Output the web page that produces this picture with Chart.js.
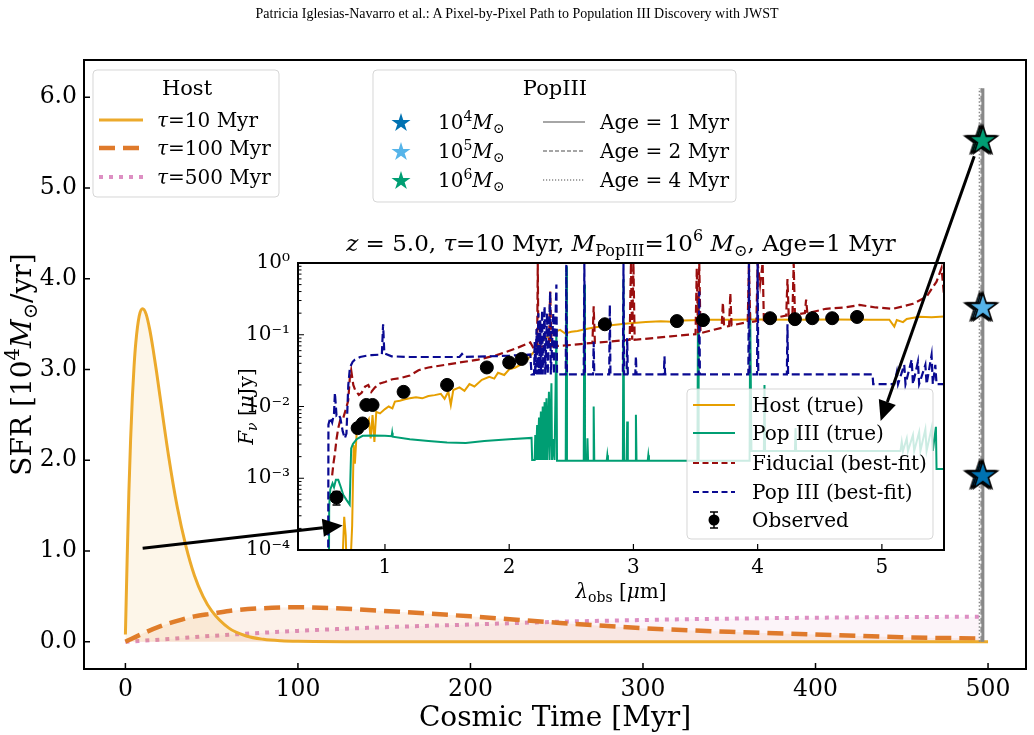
<!DOCTYPE html>
<html>
<head>
<meta charset="utf-8">
<script src="https://cdn.jsdelivr.net/npm/chart.js@4.4.0/dist/chart.umd.min.js"></script>
<style>
html, body { margin: 0; padding: 0; background: #fff; }
#wrap { position: relative; width: 1034px; height: 735px; overflow: hidden; }
#wrap canvas { position: absolute; left: 0; top: 0; }
#hdr { position: absolute; top: 6px; left: 0; width: 1034px; text-align: center;
       font-family: "Liberation Serif", "Times New Roman", serif; font-size: 14px; color: #000; }
</style>
</head>
<body>
<div id="wrap">
  <canvas id="mainChart" width="1034" height="735"></canvas>
  <canvas id="insetChart" width="1034" height="735"></canvas>
  <div id="hdr">Patricia Iglesias-Navarro et al.: A Pixel-by-Pixel Path to Population III Discovery with JWST</div>
</div>
<script>
// ---- star formation histories of the host (time in Myr, SFR in 1e4 Msun/yr) ----
var timeTau10 = [0, 1, 2, 3, 4, 5, 6, 8, 10, 12, 14, 16, 18, 20, 25, 30, 35, 40, 45, 50, 60, 70, 80, 90, 100, 150, 200, 300, 400, 500];
var sfrTau10 = [0.08, 0.90, 1.64, 2.22, 2.68, 3.03, 3.29, 3.59, 3.67, 3.61, 3.45, 3.23, 2.98, 2.71, 2.05, 1.49, 1.06, 0.73, 0.50, 0.34, 0.15, 0.064, 0.027, 0.011, 0.005, 0, 0, 0, 0, 0];
var timeTau100 = [0, 10, 20, 30, 40, 50, 60, 80, 100, 120, 150, 200, 250, 300, 350, 400, 450, 497];
var sfrTau100 = [0.0, 0.09, 0.17, 0.23, 0.28, 0.31, 0.34, 0.37, 0.38, 0.37, 0.34, 0.28, 0.21, 0.15, 0.11, 0.08, 0.05, 0.035];
var timeTau500 = [0, 25, 50, 100, 150, 200, 250, 300, 350, 400, 450, 495];
var sfrTau500 = [0, 0.03, 0.065, 0.12, 0.16, 0.19, 0.22, 0.24, 0.255, 0.265, 0.272, 0.276];

// ---- PopIII bursts ----
var popMasses = ['4', '5', '6'];              // log10 of the PopIII mass
var popLevels = [1.84, 3.69, 5.53];           // where the stars sit on the SFR axis
var popTimes = [495, 496, 497];               // burst times for Age = 4, 2, 1 Myr
var popAges = ['4', '2', '1'];
var popLineTop = 6.1;

// ---- tick labels ----
var mainXTicks = [0, 100, 200, 300, 400, 500];
var mainYTicks = [0, 1, 2, 3, 4, 5, 6];
var insetXTicks = [1, 2, 3, 4, 5];
var insetYTicks = [1e-4, 1e-3, 1e-2, 1e-1, 1];
var insetYLabels = ['10\u207B\u2074', '10\u207B\u00B3', '10\u207B\u00B2', '10\u207B\u00B9', '10\u2070'];

// ---- inset SEDs: [lambda_obs (um), F_nu (uJy)] ----
var hostSed = [[0.655,5e-5],[0.672,2.9e-4],[0.684,1.6e-4],[0.692,5e-5],[0.72,5e-5],[0.736,2.2e-4],[0.748,2.9e-3],[0.758,1.6e-3],
  [0.772,4.2e-3],[0.79,4.8e-3],[0.81,4.4e-3],[0.83,5.5e-3],[0.85,5.6e-3],[0.87,6.6e-3],[0.885,3.6e-3],[0.9,7.6e-3],[0.915,3.2e-3],
  [0.93,8.4e-3],[0.96,8.0e-3],[1.0,9.2e-3],[1.03,1.0e-2],[1.06,9.4e-3],[1.08,1.17e-2],[1.12,1.2e-2],[1.16,1.26e-2],[1.2,1.3e-2],
  [1.25,1.34e-2],[1.3,1.3e-2],[1.35,1.4e-2],[1.4,1.44e-2],[1.45,1.5e-2],[1.48,1.28e-2],[1.51,1.62e-2],[1.53,1.05e-2],[1.55,1.7e-2],
  [1.6,1.85e-2],[1.64,1.65e-2],[1.68,2.05e-2],[1.72,1.9e-2],[1.78,2.35e-2],[1.84,2.6e-2],[1.88,2.45e-2],[1.91,2.95e-2],[1.96,2.75e-2],
  [2.0,3.3e-2],[2.05,3.5e-2],[2.1,3.9e-2],[2.15,4.6e-2],[2.2,5.8e-2],[2.25,7.6e-2],[2.3,9.2e-2],[2.35,1.07e-1],[2.41,1.17e-1],
  [2.45,1.04e-1],[2.5,1.1e-1],[2.55,1.13e-1],[2.62,1.2e-1],[2.68,1.26e-1],[2.8,1.35e-1],[2.95,1.44e-1],[3.1,1.5e-1],[3.22,1.54e-1],
  [3.35,1.5e-1],[3.4,1.58e-1],[3.62,1.62e-1],[3.8,1.62e-1],[4.0,1.63e-1],[4.3,1.62e-1],[4.6,1.63e-1],[4.9,1.62e-1],[5.06,1.62e-1],
  [5.1,1.3e-1],[5.12,1.6e-1],[5.17,1.5e-1],[5.2,1.66e-1],[5.3,1.78e-1],[5.4,1.76e-1],[5.5,1.8e-1]];

var pop3Sed = [[0.549,5e-5],[0.551,4e-4],[0.56,7e-4],[0.578,8.5e-4],[0.59,7.5e-4],[0.605,9.5e-4],[0.624,9.5e-4],[0.645,7.5e-4],
  [0.664,5.9e-4],[0.69,5e-4],[0.716,4.3e-4],[0.728,2.6e-3],[0.742,3.0e-3],[0.772,3.5e-3],[0.82,3.9e-3],[0.9,3.95e-3],[1.0,3.9e-3],
  [1.054,3.85e-3],[1.058,4.3e-3],[1.062,3.8e-3],[1.2,3.5e-3],[1.35,3.3e-3],[1.5,3.15e-3],[1.65,3.1e-3],[1.8,3.3e-3],[2.0,3.5e-3],
  [2.18,3.65e-3],[2.185,1.8e-3],[2.205,1.8e-3],[2.21,4e-3],[2.215,1.8e-3],[2.225,5.5e-3],[2.23,1.8e-3],[2.24,7e-3],[2.245,1.8e-3],
  [2.255,8.5e-3],[2.26,1.8e-3],[2.27,1e-2],[2.275,1.8e-3],[2.285,1.15e-2],[2.29,1.8e-3],[2.3,1.3e-2],[2.305,1.8e-3],[2.32,1.6e-2],
  [2.325,1.8e-3],[2.34,2.1e-2],[2.345,1.8e-3],[2.36,3.5e-3],[2.365,1.8e-3],[2.38,0.12],[2.385,1.75e-3],[2.455,1.75e-3],[2.46,0.9],
  [2.465,1.75e-3],[2.6,1.75e-3],[2.605,0.5],[2.61,1.75e-3],[2.625,1.75e-3],[2.63,3.6e-3],[2.635,1.75e-3],[2.675,1.75e-3],[2.68,1e-2],
  [2.685,1.75e-3],[2.785,1.75e-3],[2.79,2.1e-3],[2.795,1.75e-3],[2.915,1.75e-3],[2.92,0.6],[2.925,1.75e-3],[2.945,1.75e-3],[2.95,6.2e-3],
  [2.955,1.75e-3],[3.015,1.75e-3],[3.02,7.7e-3],[3.025,1.75e-3],[3.115,1.75e-3],[3.12,2.1e-3],[3.125,1.75e-3],[3.515,1.75e-3],
  [3.52,0.3],[3.525,1.75e-3],[3.935,1.75e-3],[3.94,0.2],[3.95,2.4e-3],[4.05,2.4e-3],[4.055,2e-2],[4.06,2.4e-3],[4.3,2.4e-3],
  [4.305,5e-3],[4.31,2.4e-3],[5.15,2.4e-3],[5.16,3.2e-3],[5.17,2.4e-3],[5.2,3.6e-3],[5.21,2.4e-3],[5.25,4e-3],[5.26,2.4e-3],
  [5.3,4.4e-3],[5.31,2.4e-3],[5.35,4.8e-3],[5.36,2.4e-3],[5.4,5e-3],[5.41,2.4e-3],[5.435,5.2e-3],[5.44,1.35e-3],[5.5,1.35e-3]];

var fidSed = [[0.575,1.1e-3],[0.585,1.6e-3],[0.597,2.2e-3],[0.61,3.5e-3],[0.624,5e-3],[0.64,6.5e-3],[0.664,6.9e-3],[0.684,9e-3],
  [0.704,1.2e-2],[0.718,2.6e-2],[0.728,3.2e-2],[0.745,2.0e-2],[0.76,1.7e-2],[0.79,1.45e-2],[0.812,1.55e-2],[0.84,1.9e-2],
  [0.866,2.0e-2],[0.89,1.6e-2],[0.92,1.85e-2],[0.96,2.1e-2],[1.0,2.2e-2],[1.06,2.4e-2],[1.13,2.5e-2],[1.2,2.7e-2],[1.27,3.2e-2],
  [1.35,3.5e-2],[1.48,3.8e-2],[1.6,4.1e-2],[1.75,4.5e-2],[1.9,5.2e-2],[2.05,6.4e-2],[2.17,7.8e-2],[2.2,6.3e-2],[2.225,6.8e-2],
  [2.23,1.0],[2.235,6.8e-2],[2.32,6.9e-2],[2.33,0.4],[2.34,6.9e-2],[2.5,7.2e-2],[2.67,7.7e-2],[2.68,0.25],[2.69,7.7e-2],
  [2.97,8.5e-2],[2.98,1.0],[2.99,8.5e-2],[3.0,1.0],[3.01,8.5e-2],[3.3,9.5e-2],[3.5,1.02e-1],[3.51,0.85],[3.52,1.05e-1],[3.53,1.0],
  [3.54,1.05e-1],[3.71,1.25e-1],[3.72,0.28],[3.73,1.3e-1],[3.77,1.32e-1],[3.78,0.38],[3.79,1.35e-1],[3.92,1.5e-1],[3.93,1.0],
  [3.94,1.5e-1],[3.99,1.55e-1],[4.0,1.0],[4.02,0.5],[4.04,1.0],[4.05,1.6e-1],[4.23,1.85e-1],[4.24,0.6],[4.25,1.85e-1],[4.28,1.9e-1],
  [4.29,1.0],[4.3,1.9e-1],[4.38,2.0e-1],[4.39,0.31],[4.4,2.0e-1],[4.55,2.3e-1],[4.7,2.4e-1],[4.82,2.6e-1],[4.95,2.4e-1],
  [5.09,2.3e-1],[5.25,2.7e-1],[5.36,3.4e-1],[5.44,5.5e-1],[5.48,8.5e-1],[5.5,3.6e-1]];

var pop3FitSed = [[0.543,5e-5],[0.545,5.6e-3],[0.56,7e-3],[0.575,6e-3],[0.59,8e-3],[0.597,1.55e-2],[0.61,7.5e-3],[0.624,7.8e-3],
  [0.64,7e-3],[0.66,4.5e-3],[0.677,3.6e-3],[0.69,4.2e-3],[0.705,2e-2],[0.718,3.5e-2],[0.74,4.2e-2],[0.758,4.5e-2],[0.8,4.9e-2],
  [0.85,5.1e-2],[0.892,5.2e-2],[0.975,5.3e-2],[0.985,1.4e-1],[0.995,5.5e-2],[1.054,5.0e-2],[1.2,4.9e-2],[1.6,4.9e-2],[1.62,5.4e-2],
  [1.64,4.9e-2],[2.0,5.1e-2],[2.17,5.3e-2],[2.18,2.8e-2],[2.2,2.8e-2],[2.205,0.08],[2.21,2.8e-2],[2.22,0.12],[2.225,2.8e-2],
  [2.235,0.2],[2.24,2.8e-2],[2.25,0.16],[2.255,2.8e-2],[2.265,0.22],[2.27,2.8e-2],[2.285,0.25],[2.29,2.8e-2],[2.305,0.2],
  [2.31,2.8e-2],[2.33,0.4],[2.335,2.8e-2],[2.355,0.2],[2.36,2.8e-2],[2.38,0.5],[2.385,2.8e-2],[2.455,2.8e-2],[2.46,0.95],
  [2.465,2.8e-2],[2.6,2.8e-2],[2.605,1.0],[2.61,2.8e-2],[2.675,2.8e-2],[2.68,0.08],[2.685,2.8e-2],[2.805,2.8e-2],[2.81,0.26],
  [2.815,2.8e-2],[2.915,2.8e-2],[2.92,1.0],[2.925,2.8e-2],[2.945,2.8e-2],[2.95,0.09],[2.955,2.8e-2],[3.015,2.8e-2],[3.02,0.05],
  [3.025,2.8e-2],[3.245,2.8e-2],[3.25,0.05],[3.255,2.8e-2],[3.525,2.8e-2],[3.53,0.4],[3.535,2.8e-2],[3.925,2.8e-2],[3.93,1.0],
  [3.935,2.8e-2],[3.995,2.8e-2],[4.0,1.0],[4.005,2.8e-2],[4.235,2.8e-2],[4.24,0.14],[4.245,2.8e-2],[4.925,2.8e-2],[4.93,2.05e-2],
  [5.1,2.05e-2],[5.12,3e-2],[5.13,2.05e-2],[5.18,3.8e-2],[5.19,2.05e-2],[5.24,4.5e-2],[5.25,2.05e-2],[5.29,4.2e-2],[5.3,2.05e-2],
  [5.35,3.8e-2],[5.36,2.05e-2],[5.4,5.2e-2],[5.41,2.05e-2],[5.43,3.8e-2],[5.44,2.05e-2],[5.5,2.05e-2]];

var obsLam = [0.61, 0.78, 0.82, 0.85, 0.90, 1.15, 1.50, 1.82, 2.00, 2.10, 2.77, 3.35, 3.56, 4.10, 4.30, 4.44, 4.60, 4.80];
var obsFlux = [5.4e-4, 5.0e-3, 5.8e-3, 1.05e-2, 1.05e-2, 1.6e-2, 2.0e-2, 3.5e-2, 4.1e-2, 4.6e-2, 0.14, 0.155, 0.16, 0.17, 0.165, 0.17, 0.17, 0.177];
var obsErr = [1.15e-4, 2e-4, 2e-4, 3e-4, 3e-4, 4e-4, 5e-4, 8e-4, 9e-4, 1e-3, 3e-3, 3e-3, 3e-3, 3e-3, 3e-3, 3e-3, 3e-3, 4e-3];

// ---- arrows: start on the SFR panel, tip in the inset ----
var arrowFromMain = [[10, 1.03], [492, 5.35]];
var arrowToInset = [[0.66, 2.2e-4], [4.99, 6.3e-3]];

// ---- colours ----
var cTau10 = '#ECAA2C', cTau100 = '#DF7A2B', cTau500 = '#DD8FC3';
var cMass = ['#0072B2', '#56B4E9', '#009E73'];
var cHost = '#E69F00', cPop3 = '#009E73', cFid = '#9A0E0E', cFit = '#0A0A92';

var SERIF = '"DejaVu Serif", "DejaVu Sans", serif';
Chart.defaults.font.family = SERIF;
Chart.defaults.color = '#000';

function xy(xs, ys) { return xs.map(function (x, i) { return { x: x, y: ys[i] }; }); }
function pairs(arr) { return arr.map(function (p) { return { x: p[0], y: p[1] }; }); }

// text with italic / super / subscript pieces, y is the baseline
function drawRich(ctx, parts, x, y, size, align, rot) {
  ctx.save();
  ctx.translate(x, y);
  if (rot) ctx.rotate(rot);
  function fontFor(st) {
    var s = (st.indexOf('^') >= 0 || st.indexOf('_') >= 0) ? size * 0.7 : size;
    return (st.indexOf('i') >= 0 ? 'italic ' : '') + s + 'px ' + SERIF;
  }
  var w = 0;
  parts.forEach(function (p) { ctx.font = fontFor(p[1]); w += ctx.measureText(p[0]).width; });
  var cx = align === 'center' ? -w / 2 : (align === 'right' ? -w : 0);
  ctx.textAlign = 'left';
  ctx.textBaseline = 'alphabetic';
  ctx.fillStyle = '#000';
  parts.forEach(function (p) {
    ctx.font = fontFor(p[1]);
    var dy = p[1].indexOf('^') >= 0 ? -size * 0.42 : (p[1].indexOf('_') >= 0 ? size * 0.22 : 0);
    ctx.fillText(p[0], cx, dy);
    cx += ctx.measureText(p[0]).width;
  });
  ctx.restore();
}

function starPath(ctx, cx, cy, R) {
  var r = R * 0.382;
  ctx.beginPath();
  for (var k = 0; k < 10; k++) {
    var a = -Math.PI / 2 + k * Math.PI / 5;
    var rr = k % 2 ? r : R;
    ctx.lineTo(cx + rr * Math.cos(a), cy + rr * Math.sin(a));
  }
  ctx.closePath();
}

function makeStar(fill, R, lw) {
  var c = document.createElement('canvas');
  c.width = c.height = Math.ceil(2 * R + 2 * lw + 2);
  var g = c.getContext('2d');
  starPath(g, c.width / 2, c.height / 2 + 1, R);
  g.fillStyle = fill; g.fill();
  g.lineWidth = lw; g.strokeStyle = '#000'; g.lineJoin = 'miter'; g.stroke();
  return c;
}

function legendBox(ctx, x, y, w, h) {
  ctx.save();
  ctx.beginPath();
  ctx.roundRect(x, y, w, h, 4);
  ctx.fillStyle = 'rgba(255,255,255,0.8)';
  ctx.fill();
  ctx.strokeStyle = 'rgba(204,204,204,0.8)';
  ctx.lineWidth = 1;
  ctx.stroke();
  ctx.restore();
}

function sample(ctx, x1, x2, y, color, lw, dash) {
  ctx.save();
  ctx.strokeStyle = color; ctx.lineWidth = lw; ctx.setLineDash(dash || []);
  ctx.beginPath(); ctx.moveTo(x1, y); ctx.lineTo(x2, y); ctx.stroke();
  ctx.restore();
}

function arrow(ctx, x1, y1, x2, y2) {
  var a = Math.atan2(y2 - y1, x2 - x1), L = 20, W = 9;
  var bx = x2 - L * Math.cos(a), by = y2 - L * Math.sin(a);
  ctx.save();
  ctx.strokeStyle = '#000'; ctx.fillStyle = '#000'; ctx.lineWidth = 3;
  ctx.beginPath(); ctx.moveTo(x1, y1); ctx.lineTo(bx, by); ctx.stroke();
  ctx.beginPath();
  ctx.moveTo(x2, y2);
  ctx.lineTo(bx + W * Math.sin(a), by - W * Math.cos(a));
  ctx.lineTo(bx - W * Math.sin(a), by + W * Math.cos(a));
  ctx.closePath(); ctx.fill();
  ctx.restore();
}

function tickMarks(ctx, chart, xVals, yVals, len, lw) {
  var a = chart.chartArea;
  ctx.save();
  ctx.strokeStyle = '#000'; ctx.lineWidth = lw;
  ctx.beginPath();
  xVals.forEach(function (v) {
    var px = chart.scales.x.getPixelForValue(v);
    ctx.moveTo(px, a.bottom); ctx.lineTo(px, a.bottom - len);
  });
  yVals.forEach(function (v) {
    var py = chart.scales.y.getPixelForValue(v);
    ctx.moveTo(a.left, py); ctx.lineTo(a.left + len, py);
  });
  ctx.stroke();
  ctx.restore();
}

// ---------------- main SFR panel ----------------
var starSprites = cMass.map(function (c) { return makeStar(c, 15, 1.6); });

var mainDatasets = [];
for (var m = 2; m >= 0; m--) {
  mainDatasets.push({
    label: 'PopIII 1e' + popMasses[m],
    data: popTimes.map(function (t) { return { x: t, y: popLevels[m] }; }),
    showLine: false, pointStyle: starSprites[m], pointRadius: 5
  });
}
var vlineDash = [[], [6, 3], [1.5, 2]];
var vlineWidth = [3, 1.5, 1.5];
for (var k = 2; k >= 0; k--) {
  mainDatasets.push({
    label: 'Age ' + popAges[k],
    data: [{ x: popTimes[k], y: 0 }, { x: popTimes[k], y: popLineTop }],
    borderColor: '#888888', borderWidth: vlineWidth[2 - k], borderDash: vlineDash[2 - k],
    pointRadius: 0, fill: false
  });
}
mainDatasets.push(
  { label: 'tau10', data: xy(timeTau10, sfrTau10), borderColor: cTau10, borderWidth: 3,
    fill: 'origin', backgroundColor: 'rgba(236,170,44,0.10)', pointRadius: 0, cubicInterpolationMode: 'monotone' },
  { label: 'tau100', data: xy(timeTau100, sfrTau100), borderColor: cTau100, borderWidth: 4.5, borderDash: [16, 8],
    fill: 'origin', backgroundColor: 'rgba(223,122,43,0.10)', pointRadius: 0, cubicInterpolationMode: 'monotone' },
  { label: 'tau500', data: xy(timeTau500, sfrTau500), borderColor: cTau500, borderWidth: 4, borderDash: [4, 6],
    fill: 'origin', backgroundColor: 'rgba(221,143,195,0.10)', pointRadius: 0, cubicInterpolationMode: 'monotone' }
);

var mainDecor = {
  id: 'mainDecor',
  afterDraw: function (chart) {
    var ctx = chart.ctx, a = chart.chartArea;
    ctx.save();
    ctx.strokeStyle = '#000'; ctx.lineWidth = 2;
    ctx.strokeRect(a.left, a.top, a.right - a.left, a.bottom - a.top);
    ctx.restore();
    tickMarks(ctx, chart, mainXTicks, mainYTicks, 6, 1.5);

    drawRich(ctx, [['Cosmic Time [Myr]', '']], (a.left + a.right) / 2, 726, 28, 'center');
    drawRich(ctx, [['SFR [10', ''], ['4', '^'], ['M', 'i'], ['\u2299', '_'], ['/yr]', '']],
      31, (a.top + a.bottom) / 2, 28, 'center', -Math.PI / 2);

    // Host legend
    legendBox(ctx, 93, 70, 186, 127);
    drawRich(ctx, [['Host', '']], 187, 95, 21, 'center');
    var hy = [120, 148, 177];
    sample(ctx, 99, 143, hy[0], cTau10, 3, []);
    sample(ctx, 99, 143, hy[1], cTau100, 4.5, [16, 8]);
    sample(ctx, 99, 143, hy[2], cTau500, 4, [4, 6]);
    var taus = ['10', '100', '500'];
    taus.forEach(function (t, i) { drawRich(ctx, [['\u03C4', 'i'], ['=' + t + ' Myr', '']], 157, hy[i] + 7, 20, 'left'); });

    // PopIII legend
    legendBox(ctx, 373, 70, 363, 132);
    drawRich(ctx, [['PopIII', '']], 555, 95, 21, 'center');
    var py = [122, 151, 180];
    for (var i = 0; i < 3; i++) {
      ctx.save();
      starPath(ctx, 401, py[i] + 1, 10);
      ctx.fillStyle = cMass[i]; ctx.fill();
      ctx.restore();
      drawRich(ctx, [['10', ''], [popMasses[i], '^'], ['M', 'i'], ['\u2299', '_']], 438, py[i] + 7, 20, 'left');
    }
    sample(ctx, 543, 585, py[0], '#888888', 1.5, []);
    sample(ctx, 543, 585, py[1], '#888888', 1.5, [4, 2]);
    sample(ctx, 543, 585, py[2], '#888888', 1.5, [1.2, 1.8]);
    ['1', '2', '4'].forEach(function (g, i) { drawRich(ctx, [['Age = ' + g + ' Myr', '']], 600, py[i] + 7, 20, 'left'); });
  }
};

var mainChart = new Chart(document.getElementById('mainChart').getContext('2d'), {
  type: 'line',
  data: { datasets: mainDatasets },
  options: {
    responsive: false, animation: false, devicePixelRatio: 1,
    layout: { padding: { top: 60, right: 8, left: 0, bottom: 0 } },
    plugins: { legend: { display: false }, tooltip: { enabled: false } },
    scales: {
      x: {
        type: 'linear', min: -24, max: 522,
        afterBuildTicks: function (s) { s.ticks = mainXTicks.map(function (v) { return { value: v }; }); },
        afterFit: function (s) { s.height = 66; },
        grid: { display: false, drawTicks: false }, border: { display: false },
        ticks: { font: { size: 23.5 }, padding: 7, maxRotation: 0, autoSkip: false,
                 callback: function (v) { return String(v); } }
      },
      y: {
        type: 'linear', min: -0.30, max: 6.41,
        afterBuildTicks: function (s) { s.ticks = mainYTicks.map(function (v) { return { value: v }; }); },
        afterFit: function (s) { s.width = 84; },
        grid: { display: false, drawTicks: false }, border: { display: false },
        ticks: { font: { size: 23.5 }, padding: 7, autoSkip: false,
                 callback: function (v) { return Number(v).toFixed(1); } }
      }
    }
  },
  plugins: [mainDecor]
});

// ---------------- inset SED panel ----------------
var insetDecor = {
  id: 'insetDecor',
  beforeDraw: function (chart) {
    var ctx = chart.ctx, a = chart.chartArea;
    ctx.save(); ctx.fillStyle = '#fff';
    ctx.fillRect(a.left, a.top, a.right - a.left, a.bottom - a.top);
    ctx.restore();
  },
  afterDatasetsDraw: function (chart) {
    var ctx = chart.ctx, sx = chart.scales.x, sy = chart.scales.y;
    ctx.save();
    ctx.strokeStyle = '#000'; ctx.lineWidth = 1.5;
    ctx.beginPath();
    obsLam.forEach(function (l, i) {
      var px = sx.getPixelForValue(l);
      var y1 = sy.getPixelForValue(obsFlux[i] - obsErr[i]), y2 = sy.getPixelForValue(obsFlux[i] + obsErr[i]);
      ctx.moveTo(px, y1); ctx.lineTo(px, y2);
      ctx.moveTo(px - 4, y1); ctx.lineTo(px + 4, y1);
      ctx.moveTo(px - 4, y2); ctx.lineTo(px + 4, y2);
    });
    ctx.stroke();
    ctx.restore();
  },
  afterDraw: function (chart) {
    var ctx = chart.ctx, a = chart.chartArea;
    ctx.save();
    ctx.strokeStyle = '#000'; ctx.lineWidth = 2;
    ctx.strokeRect(a.left, a.top, a.right - a.left, a.bottom - a.top);
    ctx.restore();
    tickMarks(ctx, chart, insetXTicks, insetYTicks, 6, 1.2);
    var minor = [];
    for (var d = -4; d < 0; d++) for (var mm = 2; mm <= 9; mm++) minor.push(mm * Math.pow(10, d));
    tickMarks(ctx, chart, [], minor, 3.5, 1);

    drawRich(ctx, [['z', 'i'], [' = 5.0, ', ''], ['\u03C4', 'i'], ['=10 Myr, ', ''], ['M', 'i'], ['PopIII', '_'],
      ['=10', ''], ['6', '^'], [' ', ''], ['M', 'i'], ['\u2299', '_'], [', Age=1 Myr', '']],
      (a.left + a.right) / 2, 251, 23, 'center');
    drawRich(ctx, [['\u03BB', 'i'], ['obs', '_'], [' [', ''], ['\u03BC', 'i'], ['m]', '']], (a.left + a.right) / 2, 598, 20, 'center');
    drawRich(ctx, [['F', 'i'], ['\u03BD', '_i'], [' [', ''], ['\u03BC', 'i'], ['Jy]', '']], 253, (a.top + a.bottom) / 2, 20, 'center', -Math.PI / 2);

    // legend
    legendBox(ctx, 687, 389, 246, 150);
    var ly = [405, 433, 463, 492, 520];
    sample(ctx, 693, 735, ly[0], cHost, 2, []);
    sample(ctx, 693, 735, ly[1], cPop3, 2, []);
    sample(ctx, 693, 735, ly[2], cFid, 2.2, [6, 3.5]);
    sample(ctx, 693, 735, ly[3], cFit, 2.2, [6, 3.5]);
    ctx.save();
    ctx.strokeStyle = '#000'; ctx.lineWidth = 1.5;
    ctx.beginPath();
    ctx.moveTo(714, ly[4] - 8); ctx.lineTo(714, ly[4] + 8);
    ctx.moveTo(710, ly[4] - 8); ctx.lineTo(718, ly[4] - 8);
    ctx.moveTo(710, ly[4] + 8); ctx.lineTo(718, ly[4] + 8);
    ctx.stroke();
    ctx.beginPath(); ctx.arc(714, ly[4], 5.5, 0, 2 * Math.PI); ctx.fillStyle = '#000'; ctx.fill();
    ctx.restore();
    ['Host (true)', 'Pop III (true)', 'Fiducial (best-fit)', 'Pop III (best-fit)', 'Observed'].forEach(function (t, i) {
      drawRich(ctx, [[t, '']], 752, ly[i] + 7, 20, 'left');
    });

    // arrows from the SFR panel into the inset
    var mx = mainChart.scales.x, my = mainChart.scales.y;
    for (var i = 0; i < arrowFromMain.length; i++) {
      arrow(ctx, mx.getPixelForValue(arrowFromMain[i][0]), my.getPixelForValue(arrowFromMain[i][1]),
        chart.scales.x.getPixelForValue(arrowToInset[i][0]), chart.scales.y.getPixelForValue(arrowToInset[i][1]));
    }
  }
};

var insetChart = new Chart(document.getElementById('insetChart').getContext('2d'), {
  type: 'line',
  data: {
    datasets: [
      { label: 'Observed', data: xy(obsLam, obsFlux), showLine: false, pointRadius: 6.5,
        backgroundColor: '#000', borderColor: '#000' },
      { label: 'Pop III (best-fit)', data: pairs(pop3FitSed), borderColor: cFit, borderWidth: 2.2,
        borderDash: [8, 4], pointRadius: 0, fill: false, clip: 1 },
      { label: 'Fiducial (best-fit)', data: pairs(fidSed), borderColor: cFid, borderWidth: 2.2,
        borderDash: [8, 4], pointRadius: 0, fill: false, clip: 1 },
      { label: 'Pop III (true)', data: pairs(pop3Sed), borderColor: cPop3, borderWidth: 2,
        pointRadius: 0, fill: false, clip: 1 },
      { label: 'Host (true)', data: pairs(hostSed), borderColor: cHost, borderWidth: 2,
        pointRadius: 0, fill: false, clip: 1 }
    ]
  },
  options: {
    responsive: false, animation: false, devicePixelRatio: 1,
    layout: { padding: { top: 263, right: 90, left: 0, bottom: 0 } },
    plugins: { legend: { display: false }, tooltip: { enabled: false } },
    scales: {
      x: {
        type: 'linear', min: 0.3, max: 5.5,
        afterBuildTicks: function (s) { s.ticks = insetXTicks.map(function (v) { return { value: v }; }); },
        afterFit: function (s) { s.height = 185; },
        grid: { display: false, drawTicks: false }, border: { display: false },
        ticks: { font: { size: 20 }, padding: 6, maxRotation: 0, autoSkip: false,
                 callback: function (v) { return String(v); } }
      },
      y: {
        type: 'logarithmic', min: 1e-4, max: 1,
        afterBuildTicks: function (s) { s.ticks = insetYTicks.map(function (v) { return { value: v }; }); },
        afterFit: function (s) { s.width = 298; },
        grid: { display: false, drawTicks: false }, border: { display: false },
        ticks: { font: { size: 20 }, padding: 8, autoSkip: false,
                 callback: function (v, i) { return insetYLabels[i]; } }
      }
    }
  },
  plugins: [insetDecor]
});
</script>
</body>
</html>
